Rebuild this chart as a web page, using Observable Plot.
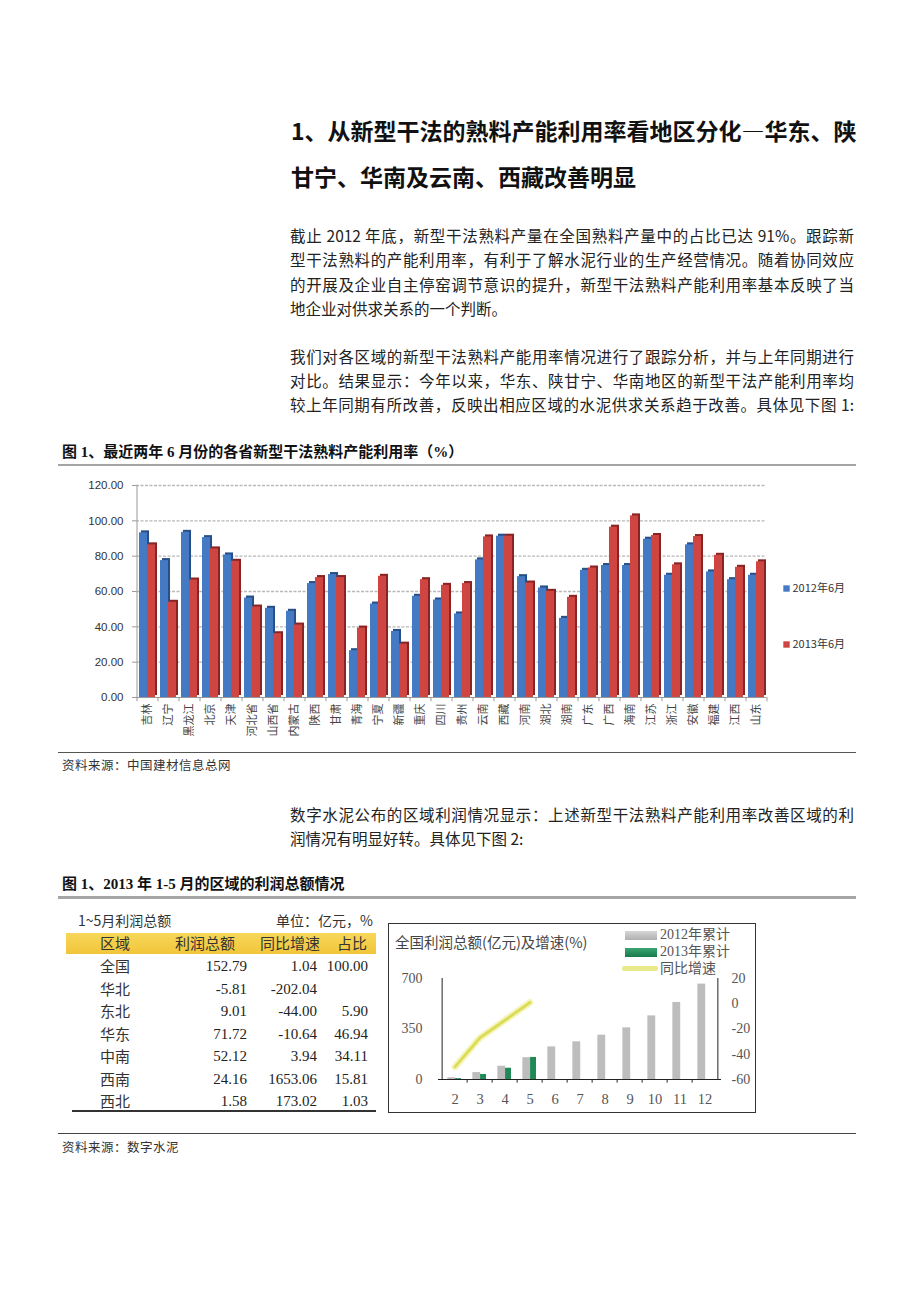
<!DOCTYPE html>
<html lang="zh-CN"><head><meta charset="utf-8">
<script src="https://cdn.jsdelivr.net/npm/d3@7"></script>
<script src="https://cdn.jsdelivr.net/npm/@observablehq/plot@0.6"></script>
<style>
html,body{margin:0;padding:0;background:#fff;}
body{width:920px;height:1302px;position:relative;overflow:hidden;font-family:"Noto Sans CJK SC","Noto Sans",sans-serif;color:#1a1a1a;}
.a{position:absolute;}
.h{left:291px;font-size:23px;font-weight:700;white-space:nowrap;line-height:30px;color:#111;}
.p{left:290px;width:564px;font-size:15.5px;line-height:24px;height:24px;text-align:justify;text-align-last:justify;color:#222;}
.pl{text-align-last:left;}
.cap{left:62px;font-size:15px;font-weight:700;font-family:"Liberation Serif","Noto Sans CJK SC",serif;line-height:20px;white-space:nowrap;color:#111;}
.src{left:62px;font-size:12.5px;line-height:16px;color:#333;letter-spacing:0.5px;}
.rule{left:58px;width:798px;}
.cell{position:absolute;line-height:20px;white-space:nowrap;font-family:"Liberation Serif","Noto Sans CJK SC",serif;font-size:15px;color:#222;}
.cn{font-family:"Noto Sans CJK SC",sans-serif;font-size:14px;color:#333;}
.lg{position:absolute;font-family:"Liberation Serif","Noto Sans CJK SC",serif;font-size:14px;color:#555;line-height:18px;white-space:nowrap;}
</style></head><body>

<div class="a h" style="top:115px">1、从新型干法的熟料产能利用率看地区分化—华东、陕</div>
<div class="a h" style="top:161px">甘宁、华南及云南、西藏改善明显</div>

<div class="a p" style="top:223px">截止 2012 年底，新型干法熟料产量在全国熟料产量中的占比已达 91%。跟踪新</div>
<div class="a p" style="top:247px">型干法熟料的产能利用率，有利于了解水泥行业的生产经营情况。随着协同效应</div>
<div class="a p" style="top:272px">的开展及企业自主停窑调节意识的提升，新型干法熟料产能利用率基本反映了当</div>
<div class="a p pl" style="top:296px">地企业对供求关系的一个判断。</div>

<div class="a p" style="top:344px">我们对各区域的新型干法熟料产能用率情况进行了跟踪分析，并与上年同期进行</div>
<div class="a p" style="top:368px">对比。结果显示：今年以来，华东、陕甘宁、华南地区的新型干法产能利用率均</div>
<div class="a p" style="top:392px">较上年同期有所改善，反映出相应区域的水泥供求关系趋于改善。具体见下图 1:</div>

<div class="a cap" style="top:442px">图 1、最近两年 6 月份的各省新型干法熟料产能利用率（%）</div>
<div class="a rule" style="top:464px;height:2px;background:#a5a5a5"></div>
<div id="chart1" class="a" style="left:60px;top:470px;width:800px;height:280px"></div>
<div class="a rule" style="top:752px;height:1px;background:#555"></div>
<div class="a src" style="top:757px">资料来源：中国建材信息总网</div>

<div class="a p" style="top:802px">数字水泥公布的区域利润情况显示：上述新型干法熟料产能利用率改善区域的利</div>
<div class="a p pl" style="top:826px">润情况有明显好转。具体见下图 2:</div>

<div class="a cap" style="top:874px">图 1、2013 年 1-5 月的区域的利润总额情况</div>
<div class="a rule" style="top:896px;height:3px;background:#a5a5a5"></div>

<div id="table" class="a" style="left:0;top:0;width:0;height:0"></div>

<div class="a" style="left:388px;top:923px;width:366px;height:188px;border:1px solid #333"></div>
<div id="chart2" class="a" style="left:388px;top:923px;width:368px;height:190px"></div>
<div class="lg" style="left:395px;top:933px;font-family:'Noto Sans CJK SC',sans-serif;font-size:14.5px;color:#444">全国利润总额(亿元)及增速(%)</div>
<div class="a" style="left:625px;top:931px;width:32px;height:9px;background:linear-gradient(#d6d6d6,#b0b0b0)"></div>
<div class="lg" style="left:660px;top:926px">2012年累计</div>
<div class="a" style="left:625px;top:948px;width:32px;height:9px;background:linear-gradient(#3aa673,#177a4a)"></div>
<div class="lg" style="left:660px;top:943px">2013年累计</div>
<div class="a" style="left:622px;top:966px;width:36px;height:5px;background:#e9e98a;border-radius:2px"></div>
<div class="lg" style="left:660px;top:960px">同比增速</div>

<div class="a rule" style="top:1133px;height:1px;background:#444"></div>
<div class="a src" style="top:1139px">资料来源：数字水泥</div>

<script>
// ---------- Figure 1 data ----------
const provinces = ["吉林","辽宁","黑龙江","北京","天津","河北省","山西省","内蒙古","陕西","甘肃","青海","宁夏","新疆","重庆","四川","贵州","云南","西藏","河南","湖北","湖南","广东","广西","海南","江苏","浙江","安徽","福建","江西","山东"];
const rate2012 = [93.2,77.5,93.5,90.5,80.7,56.3,50.5,48.8,64.5,69.6,26.5,52.9,37.4,57.3,55.2,47.3,77.9,91.3,68.4,62.0,44.8,72.0,74.7,74.7,89.6,69.2,86.4,71.1,66.7,69.2];
const rate2013 = [86.4,53.9,66.5,84.1,77.1,51.2,36.1,41.0,67.9,67.9,39.3,68.6,30.2,66.7,63.5,64.5,90.9,91.3,64.8,60.1,56.7,73.3,96.4,102.8,91.7,75.1,91.1,80.5,73.7,76.8];
const seriesNames = ["2012年6月","2013年6月"];
const rateTicks = [0,20,40,60,80,100,120];

// ---------- Figure 2 data ----------
const tblRegions = ["全国","华北","东北","华东","中南","西南","西北"];
const tblProfit = [152.79,-5.81,9.01,71.72,52.12,24.16,1.58];
const tblGrowth = [1.04,-202.04,-44.00,-10.64,3.94,1653.06,173.02];
const tblShare = [100.00,null,5.90,46.94,34.11,15.81,1.03];
const tblHeaders = ["区域","利润总额","同比增速","占比"];

const months = ["2","3","4","5","6","7","8","9","10","11","12"];
const cum2012 = [12,48,92,151,226,261,307,358,441,534,661];
const cum2013 = [6,35,78,152.79];
const growthYoY = [-50,-27,-13,1.04];
const profitTicks = [0,350,700];
const growthTicks = [20,0,-20,-40,-60];

// ---------- Chart 1 ----------
{
  const W=800,H=280,ML=76,MR=94,MT=15,MB=53;
  const step=(W-ML-MR)/provinces.length;
  const bw=step*0.76;
  const r12=provinces.map((p,i)=>({p,v:rate2012[i]}));
  const r13=provinces.map((p,i)=>({p,v:rate2013[i]}));
  const c1=Plot.plot({
    width:W,height:H,marginLeft:ML,marginRight:MR,marginTop:MT,marginBottom:MB,
    style:{fontFamily:'"Noto Sans CJK SC",sans-serif',fontSize:"11px",color:"#333",background:"transparent",overflow:"visible"},
    x:{domain:provinces,paddingInner:0.24,paddingOuter:0.12,label:null},
    y:{domain:[0,120],label:null},
    marks:[
      Plot.ruleY(rateTicks.slice(1),{stroke:"#b8b8b8",strokeDasharray:"3,1.5",strokeWidth:1.3}),
      Plot.ruleY([0],{stroke:"#999"}),
      Plot.ruleX([provinces[0]],{dx:-step/2,stroke:"#999"}),
      Plot.ruleX(provinces,{dx:-step/2,y1:0,y2:-2.4,stroke:"#999"}),
      Plot.ruleX([provinces[provinces.length-1]],{dx:step/2,y1:0,y2:-2.4,stroke:"#999"}),
      Plot.barY(r12,{x:"p",y:"v",fill:"#294f88",insetRight:bw/2,dx:2,dy:-2}),
      Plot.barY(r12,{x:"p",y:"v",fill:"#4479c4",insetRight:bw/2}),
      Plot.barY(r13,{x:"p",y:"v",fill:"#8a2422",insetLeft:bw/2,dx:2,dy:-2}),
      Plot.barY(r13,{x:"p",y:"v",fill:"#cf4542",insetLeft:bw/2}),
      Plot.axisY({ticks:rateTicks,tickFormat:d=>d.toFixed(2),tickSize:4,tickPadding:9,fontSize:11.5,fontFamily:"Liberation Sans, sans-serif",stroke:"#999",color:"#333",label:null}),
      Plot.axisX({tickRotate:-90,tickSize:0,tickPadding:6,fontSize:11,color:"#444",label:null}),
      Plot.dot([seriesNames[0]],{frameAnchor:"right",dx:20,dy:-3,symbol:"square",r:3.6,fill:"#4479c4",stroke:null}),
      Plot.dot([seriesNames[1]],{frameAnchor:"right",dx:20,dy:53,symbol:"square",r:3.6,fill:"#cf4542",stroke:null}),
      Plot.text([seriesNames[0]],{text:d=>d,frameAnchor:"right",dx:26,dy:-3,textAnchor:"start",fontSize:11,fill:"#333"}),
      Plot.text([seriesNames[1]],{text:d=>d,frameAnchor:"right",dx:26,dy:53,textAnchor:"start",fontSize:11,fill:"#333"})
    ]
  });
  document.getElementById("chart1").appendChild(c1);
}

// ---------- Table ----------
{
  const t=document.getElementById("table");
  const add=(html,style,cls)=>{const d=document.createElement("div");d.className="cell "+(cls||"");d.style.cssText=style;d.textContent=html;t.appendChild(d);};
  const bg=document.createElement("div");bg.className="a";bg.style.cssText="left:66px;top:933px;width:310px;height:21px;background:linear-gradient(#f7d75a,#f2c53a)";t.appendChild(bg);
  const bl=document.createElement("div");bl.className="a";bl.style.cssText="left:72px;top:1110px;width:304px;height:2px;background:#333";t.appendChild(bl);
  add("1~5月利润总额","left:78px;top:910px;font-size:14px;","cn");
  add("单位：亿元，%","left:263px;top:910px;width:110px;text-align:right;font-size:14px;","cn");
  const colRight=[null,247,317,368];
  add(tblHeaders[0],"left:100px;top:933px;font-size:15px;","cn");
  add(tblHeaders[1],"left:160px;top:933px;width:90px;text-align:center;font-size:15px;","cn");
  add(tblHeaders[2],"left:250px;top:933px;width:70px;text-align:right;font-size:15px;","cn");
  add(tblHeaders[3],"left:315px;top:933px;width:52px;text-align:right;font-size:15px;","cn");
  tblRegions.forEach((r,i)=>{
    const top=956+i*22.5;
    add(r,`left:100px;top:${top}px;font-size:15px;`,"cn");
    const vals=[tblProfit[i],tblGrowth[i],tblShare[i]];
    vals.forEach((v,j)=>{
      if(v==null) return;
      const R=colRight[j+1];
      add(v.toFixed(2),`left:${R-90}px;top:${top}px;width:90px;text-align:right;`);
    });
  });
}

// ---------- Chart 2 ----------
{
  const W=368,H=190,ML=50,MR=35,MT=55,MB=34;
  const yMax=700, gMin=-60, gMax=20;
  const g2y=g=>(g-gMin)/(gMax-gMin)*yMax;
  const step=(W-ML-MR)/months.length;
  const bw=step*0.5;
  const a12=months.map((m,i)=>({m,v:cum2012[i]}));
  const a13=cum2013.map((v,i)=>({m:months[i],v}));
  const gr=growthYoY.map((g,i)=>({m:months[i],g}));
  const c2=Plot.plot({
    width:W,height:H,marginLeft:ML,marginRight:MR,marginTop:MT,marginBottom:MB,
    style:{fontFamily:'"Liberation Serif",serif',fontSize:"14px",color:"#555",background:"transparent",overflow:"visible"},
    x:{domain:months,paddingInner:0.5,paddingOuter:0.25,label:null},
    y:{domain:[0,yMax],label:null},
    marks:[
      Plot.barY(a12,{x:"m",y:"v",fill:"#bdbdbd",insetRight:bw*0.45,insetLeft:-bw*0.05}),
      Plot.barY(a13,{x:"m",y:"v",fill:"#1f8a57",insetLeft:bw*0.55}),
      Plot.line(gr,{x:"m",y:d=>g2y(d.g),stroke:"#f1f1a8",strokeWidth:7,strokeOpacity:0.7,curve:"linear"}),
      Plot.line(gr,{x:"m",y:d=>g2y(d.g),stroke:"#dcdc55",strokeWidth:3}),
      Plot.ruleY([0],{stroke:"#222"}),
      Plot.ruleX([months[0]],{dx:-step/2,stroke:"#222"}),
      Plot.ruleX([months[months.length-1]],{dx:step/2,stroke:"#222"}),
      Plot.ruleX(months.slice(1),{dx:-step/2,y1:0,y2:-25,stroke:"#222"}),
      Plot.axisY({anchor:"left",ticks:profitTicks,tickSize:0,tickPadding:16,fontSize:14,color:"#555",label:null}),
      Plot.axisY({anchor:"right",ticks:growthTicks.map(g2y),tickFormat:y=>String(Math.round(y/yMax*(gMax-gMin)+gMin)),tickSize:0,tickPadding:10,fontSize:14,color:"#555",label:null}),
      Plot.axisX({tickSize:0,tickPadding:14,fontSize:14.5,color:"#555",label:null})
    ]
  });
  document.getElementById("chart2").appendChild(c2);
}
</script>
</body></html>
